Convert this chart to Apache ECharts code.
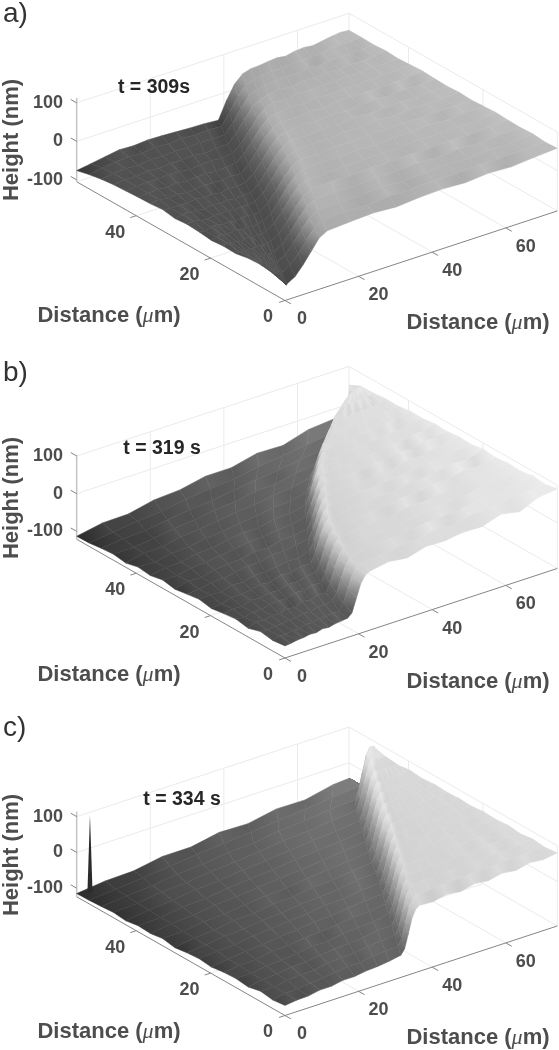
<!DOCTYPE html>
<html><head><meta charset="utf-8"><style>html,body{margin:0;background:#fff}#c{width:559px;height:1050px}</style>
<script src="https://cdn.jsdelivr.net/npm/echarts@6/dist/echarts.min.js"></script></head><body><div id="c"></div>
<script>
// ---------- data ----------
const xTicks=[0,20,40,60];
const yTicks=[0,20,40];
const zTicks=[-100,0,100];
const rowY=[0,3.3,6.6,9.9,13.2,16.5,19.8,23.1,26.4,29.6,32.9,36.2,39.5,42.8,46.1,49.4,52.7,56];
const stepA=[6,8,10,12.5,15,17,19.5,22,24,26,28,30,32,34.5,36.5,39,41.5,44];
const stepB=[20,21,22.5,24,26,28,30,33,36,39,42,45,49,53,58,63,69,73];
const stepC=[34,36.5,39,41.5,44,46.5,49,51.5,54,56,58.5,61,63.5,66,68.5,71.5,76,80];
const heightA=[
[-60,-61,-62,-63,-64,-65,-66,-66,-66,-66,-64,-52,-28,0,28,40,44,47,43,48,50,47,52,49,54,58],
[-52,-54,-58,-60,-58,-60,-62,-60,-62,-60,-58,-46,-24,4,30,42,46,44,48,47,51,49,53,51,55,56],
[-48,-52,-50,-56,-54,-58,-56,-58,-56,-59,-56,-44,-20,8,32,44,47,46,50,47,50,52,50,54,53,59],
[-50,-48,-54,-52,-56,-54,-58,-54,-57,-55,-54,-42,-18,10,34,46,49,47,51,49,53,50,54,52,55,57],
[-56,-54,-52,-56,-53,-57,-54,-56,-58,-55,-53,-40,-16,12,36,47,50,48,52,50,53,51,55,53,57,58],
[-55,-50,-55,-52,-58,-55,-52,-57,-54,-56,-52,-38,-14,14,37,48,46,51,49,53,50,55,52,56,54,60],
[-58,-54,-50,-55,-53,-51,-56,-53,-58,-54,-52,-38,-12,16,38,48,51,49,53,50,54,52,56,53,57,58],
[-54,-56,-52,-50,-55,-52,-57,-54,-52,-56,-53,-37,-12,16,38,49,47,52,50,54,51,55,53,54,56,56],
[-52,-50,-54,-56,-52,-55,-51,-56,-53,-55,-51,-36,-10,18,39,48,51,48,53,50,55,52,54,56,55,58],
[-55,-52,-50,-53,-56,-51,-54,-52,-55,-52,-54,-36,-10,18,39,50,47,52,49,54,51,53,55,52,57,56],
[-50,-54,-52,-55,-51,-54,-52,-56,-52,-54,-50,-34,-8,19,40,47,51,49,53,50,52,55,52,56,54,57],
[-53,-50,-54,-51,-55,-53,-50,-54,-52,-50,-52,-34,-8,20,40,49,46,51,48,53,51,54,52,55,54,59],
[-54,-52,-50,-53,-50,-54,-52,-50,-54,-51,-50,-33,-6,20,40,46,50,47,52,49,53,51,54,52,56,57],
[-56,-54,-51,-53,-50,-52,-55,-52,-50,-53,-49,-32,-6,21,40,47,45,50,48,51,49,53,51,55,53,55],
[-58,-55,-56,-52,-54,-51,-53,-50,-54,-51,-50,-30,-2,24,38,44,47,45,49,47,51,49,52,51,54,57],
[-62,-58,-55,-57,-53,-55,-52,-54,-51,-53,-52,-28,2,28,38,43,45,47,45,49,47,50,52,50,53,55],
[-68,-62,-58,-56,-58,-54,-56,-53,-56,-54,-56,-26,8,30,38,42,45,43,47,49,46,50,52,54,52,56],
[-76,-70,-64,-58,-60,-57,-58,-60,-62,-63,-66,-22,14,34,40,41,44,46,43,48,50,47,51,55,58,56]];
const heightB=[
[-89,-87,-84,-83,-80,-81,-76,-78,-74,-72,-70,-60,-25,10,28,35,44,38,52,50,58,56,72,62,84,90],
[-93,-86,-88,-83,-85,-79,-81,-75,-78,-72,-74,-55,-20,12,30,36,38,47,48,58,56,66,68,76,80,84],
[-88,-91,-85,-87,-81,-84,-76,-79,-72,-74,-68,-52,-18,14,30,33,41,44,49,56,58,62,72,71,80,88],
[-98,-88,-90,-84,-86,-79,-83,-74,-77,-70,-71,-50,-15,15,32,36,38,45,48,52,61,62,66,75,76,82],
[-92,-95,-87,-89,-83,-80,-82,-73,-75,-68,-70,-48,-12,18,33,33,42,44,47,55,56,63,66,69,78,84],
[-96,-91,-93,-85,-87,-80,-82,-74,-76,-70,-66,-46,-10,20,34,38,37,46,46,55,55,65,64,74,73,80],
[-101,-98,-90,-89,-85,-80,-83,-73,-76,-67,-69,-44,-8,22,36,34,42,43,50,51,58,60,65,72,71,84],
[-95,-93,-95,-86,-88,-81,-80,-76,-71,-72,-63,-40,-5,24,38,40,39,48,50,53,58,60,67,68,74,78],
[-100,-98,-91,-90,-85,-78,-80,-70,-71,-66,-60,-38,-3,26,38,37,44,45,47,55,54,62,62,70,71,80],
[-105,-95,-97,-88,-85,-82,-75,-76,-68,-66,-60,-35,0,28,40,43,42,50,48,56,55,63,60,69,70,76],
[-99,-100,-92,-90,-84,-81,-73,-73,-66,-65,-56,-32,2,30,42,41,48,46,52,53,55,61,59,67,68,78],
[-106,-98,-97,-88,-87,-79,-72,-74,-64,-63,-54,-30,4,32,43,46,45,51,52,55,56,60,64,62,68,73],
[-102,-103,-95,-92,-85,-80,-75,-69,-62,-60,-50,-26,6,33,44,45,51,50,55,54,59,57,63,62,66,74],
[-110,-100,-98,-89,-84,-79,-70,-68,-58,-56,-44,-22,8,34,46,52,50,56,54,59,58,62,61,65,64,69],
[-105,-104,-98,-90,-85,-76,-72,-62,-60,-50,-42,-18,10,36,48,52,57,54,60,56,62,58,63,60,65,70],
[-108,-102,-100,-90,-84,-77,-70,-60,-56,-46,-38,-14,14,38,50,56,60,57,61,58,62,59,63,60,64,66],
[-112,-104,-96,-92,-80,-74,-68,-58,-50,-42,-34,-10,18,42,54,60,62,60,63,61,64,62,65,63,66,66],
[-113,-100,-99,-84,-80,-66,-66,-50,-52,-32,-26,-24,-10,10,30,50,50,50,50,50,50,50,50,50,50,50]];
const heightC=[
[-96,-92,-91,-85,-85,-79,-79,-74,-72,-68,-62,-48,-10,30,52,60,58,66,61,70,66,74,69,78,74,80],
[-100,-93,-92,-87,-84,-80,-76,-76,-70,-67,-66,-46,-8,32,54,63,62,66,66,69,70,72,74,75,76,76],
[-95,-95,-90,-86,-85,-79,-76,-75,-68,-67,-62,-44,-6,34,56,60,65,64,68,67,71,71,74,73,77,80],
[-103,-95,-93,-87,-86,-80,-75,-74,-70,-64,-62,-42,-4,36,58,64,63,67,66,69,70,70,74,72,76,75],
[-99,-98,-91,-90,-85,-79,-79,-72,-70,-66,-60,-40,-2,38,60,62,66,65,68,68,71,70,73,72,75,79],
[-101,-97,-95,-87,-86,-79,-77,-72,-67,-65,-58,-38,0,40,62,65,64,68,67,69,70,71,72,72,74,76],
[-106,-99,-93,-90,-84,-80,-74,-73,-66,-63,-58,-36,2,42,64,63,67,66,69,68,71,70,72,72,74,78],
[-102,-98,-96,-88,-85,-79,-76,-69,-67,-61,-57,-34,4,44,66,66,66,68,67,70,69,71,71,73,72,74],
[-105,-101,-93,-91,-84,-81,-74,-71,-66,-59,-56,-32,6,46,68,65,68,67,70,69,71,70,72,72,73,76],
[-110,-100,-97,-88,-86,-78,-76,-68,-66,-58,-54,-30,8,48,70,68,67,69,68,70,70,72,71,73,72,74],
[-104,-103,-95,-92,-85,-79,-76,-68,-63,-59,-52,-28,10,50,72,68,70,69,71,70,72,71,72,72,73,76],
[-109,-101,-98,-89,-86,-79,-74,-69,-63,-56,-51,-26,12,52,74,71,70,72,71,72,71,73,72,73,72,73],
[-107,-105,-96,-93,-84,-80,-74,-67,-62,-57,-50,-24,14,54,76,72,74,72,74,72,74,73,74,73,74,76],
[-113,-104,-99,-90,-87,-78,-74,-67,-60,-56,-48,-22,16,56,78,74,75,74,76,74,75,74,75,74,75,72],
[-109,-106,-96,-93,-84,-80,-72,-66,-60,-54,-47,-20,20,60,82,78,78,77,77,76,76,75,75,74,74,76],
[-112,-106,-101,-91,-87,-78,-75,-64,-60,-52,-47,-18,24,66,86,84,84,84,84,84,84,84,84,84,84,84],
[-114,-108,-100,-94,-85,-80,-72,-66,-58,-51,-44,-43,-43,-43,-43,-43,-43,-43,-43,-43,-43,-43,-43,-43,-43,-43],
[-115,-106,-104,-90,-90,-75,-77,-62,-63,-46,-43,-43,-43,-43,-43,-43,-43,-43,-43,-43,-43,-43,-43,-43,-43,-43]];
const spikeC={x:2.6,y:55,top:101,base:-115};
const timeLabels=['t = 309s','t = 319 s','t = 334 s'];
const panelLetters=['a)','b)','c)'];

// ---------- layout ----------
const XMAX=74,YMAX=56;
const panels=[
 {h:heightA,s:stepA,w:11,oy:300.5,kz:.385,zmin:-105,ztop:113,relief:2,gray:[[-80,52],[-58,80],[-20,90],[10,125],[35,160],[60,192]],letterY:14,tx:154,ty:88,hy:140,dl:316,dr:323},
 {h:heightB,s:stepB,w:6,oy:658,kz:.377,zmin:-121,ztop:102,relief:2,gray:[[-115,48],[-90,80],[-60,100],[-30,122],[0,160],[35,212],[90,234]],letterY:373,tx:162,ty:449,hy:498,dl:675,dr:682},
 {h:heightC,s:stepC,w:5,oy:1015.5,kz:.358,zmin:-124,ztop:114,relief:2,gray:[[-115,48],[-96,78],[-70,100],[-45,122],[0,155],[60,208],[85,222]],letterY:728,tx:182,ty:800,hy:855,dl:1032,dr:1038}];
function proj(p,x,y,z){return [285+3.68*x-3.72*y,p.oy-1.21*x-2.12*y-p.kz*(z-p.zmin)];}
function nodeX(p,j,i){const s=p.s[j],a=Math.max(0,s-p.w/2),b=s+p.w/2;let x;
 if(i<=10)x=a*i/10;else if(i<=15)x=a+(b-a)*(i-10)/5;else x=b+(XMAX-b)*(i-15)/10;
 return Math.min(x,XMAX);}
function baseGray(p,z){const g=p.gray;if(z<=g[0][0])return g[0][1];
 for(let k=1;k<g.length;k++)if(z<=g[k][0]){const t=(z-g[k-1][0])/(g[k][0]-g[k-1][0]);return g[k-1][1]+t*(g[k][1]-g[k-1][1]);}
 return g[g.length-1][1];}
function nodeGray(p,j,i){const h=p.h,z=h[j][i];
 const up=h[Math.min(j+1,17)][i],dn=h[Math.max(j-1,0)][i],r=h[j][Math.min(i+1,25)],l=h[j][Math.max(i-1,0)];
 const sh=Math.max(-12,Math.min(12,p.relief*(z-(up+dn+l+r)/4)));
 return Math.max(0,Math.min(255,baseGray(p,z)+sh));}
const rgb=g=>{const v=Math.round(g);return 'rgb('+v+','+v+','+v+')';};

// ---------- surface cells ----------
const cells=[];
panels.forEach((p,k)=>{for(let j=16;j>=0;j--)for(let i=24;i>=0;i--)cells.push([k,j,i]);});
function renderCell(params,api){
 const p=panels[api.value(0)],j=api.value(1),i=api.value(2);
 const pt=(jj,ii)=>api.coord(proj(p,nodeX(p,jj,ii),rowY[jj],p.h[jj][ii]));
 const a=pt(j,i),b=pt(j,i+1),c=pt(j+1,i+1),d=pt(j+1,i);
 const gl=(nodeGray(p,j,i)+nodeGray(p,j+1,i))/2,gr=(nodeGray(p,j,i+1)+nodeGray(p,j+1,i+1))/2;
 const x1=(a[0]+d[0])/2,y1=(a[1]+d[1])/2,x2=(b[0]+c[0])/2,y2=(b[1]+c[1])/2;
 const fill=(Math.abs(x2-x1)+Math.abs(y2-y1)<.01)?rgb(gl):{type:'linear',x:x1,y:y1,x2:x2,y2:y2,global:true,colorStops:[{offset:0,color:rgb(gl)},{offset:1,color:rgb(gr)}]};
 return {type:'polygon',shape:{points:[a,b,c,d]},style:{fill:fill,stroke:fill,lineWidth:.5},silent:true};
}

// ---------- frame: grid lines, axis lines, ticks ----------
const segs=[];
panels.forEach((p,k)=>{
 const F=p.zmin,add=(a,b,t)=>segs.push({k,a,b,t});
 const T=100;
 [0,100].forEach(z=>{add([0,YMAX,z],[XMAX,YMAX,z],'g');add([XMAX,YMAX,z],[XMAX,0,z],'g');});
 xTicks.slice(1).forEach(x=>{add([x,YMAX,F],[x,YMAX,T],'g');add([x,0,F],[x,YMAX,F],'g');});
 yTicks.slice(1).forEach(y=>{add([XMAX,y,F],[XMAX,y,T],'g');add([0,y,F],[XMAX,y,F],'g');});
 add([XMAX,YMAX,F],[XMAX,YMAX,T],'g');add([XMAX,0,F],[XMAX,0,T],'g');
 add([0,YMAX,F],[XMAX,YMAX,F],'g');add([XMAX,0,F],[XMAX,YMAX,F],'g');
 add([0,0,F],[XMAX,0,F],'a');add([0,0,F],[0,YMAX,F],'a');add([0,YMAX,F],[0,YMAX,p.ztop],'z');
 xTicks.forEach(x=>add([x,0,F],[x,-1.6,F],'a'));
 yTicks.forEach(y=>add([0,y,F],[-1.6,y,F],'a'));
 zTicks.forEach(z=>add([0,YMAX,z],[0,YMAX+1.6,z],'a'));
});
function renderSeg(params,api){
 const s=segs[api.value(0)],p=panels[s.k];
 const a=api.coord(proj(p,...s.a)),b=api.coord(proj(p,...s.b));
 const st={g:['#ebebeb',1],a:['#858585',1],z:['#c4c4c4',1.5]}[s.t];
 return {type:'line',shape:{x1:a[0],y1:a[1],x2:b[0],y2:b[1]},style:{stroke:st[0],lineWidth:st[1]},silent:true};
}

// ---------- texts ----------
const SANS='"Liberation Sans",Arial,sans-serif';
const labels=[];
const distRich={b:{font:'bold 22px '+SANS,fill:'#4d4d4d'},m:{font:'italic 22px "Liberation Serif",serif',fill:'#4d4d4d'}};
const distText='{b|Distance (}{m|\u03bc}{b|m)}';
panels.forEach((p,k)=>{
 const o=(pos,text,align,font,fill,extra)=>labels.push(Object.assign({pos,text,align,font,fill},extra||{}));
 const tf='bold 18px '+SANS,c='#4d4d4d';
 xTicks.forEach(x=>{const q=proj(p,x,0,p.zmin);o([q[0]+(x?20:17),q[1]+19],String(x),'center',tf,c);});
 yTicks.forEach(y=>{const q=proj(p,0,y,p.zmin);o([q[0]-(y?21:17),q[1]+17],String(y),'center',tf,c);});
 zTicks.forEach(z=>{const q=proj(p,0,YMAX,z);o([63,q[1]],String(z),'right',tf,c);});
 o([3,p.letterY],panelLetters[k],'left','28px '+SANS,'#333');
 o([p.tx,p.ty],timeLabels[k],'center','bold 19.5px '+SANS,'#262626');
 o([12,p.hy],'Height (nm)','center','bold 22px '+SANS,c,{rot:Math.PI/2});
 o([109,p.dl],distText,'center',null,c,{rich:distRich});
 o([478,p.dr],distText,'center',null,c,{rich:distRich});
});
function renderLabel(params,api){
 const l=labels[api.value(0)],q=api.coord(l.pos);
 const style={text:l.text,textAlign:l.align,textVerticalAlign:'middle',fill:l.fill};
 if(l.font)style.font=l.font;
 if(l.rich)style.rich=l.rich;
 return {type:'text',x:q[0],y:q[1],rotation:l.rot||0,style:style,silent:true};
}
function renderSpike(params,api){
 const s=spikeC,p=panels[2];
 return {type:'polygon',shape:{points:[[s.x-.7,s.base],[s.x,s.top],[s.x+.7,s.base]].map(v=>api.coord(proj(p,v[0],s.y,v[1])))},style:{fill:'#2b2b2b'},silent:true};
}

const chart=echarts.init(document.getElementById('c'),null,{renderer:'canvas'});
const idx=a=>a.map((_,i)=>[i]);
const common={coordinateSystem:'cartesian2d',clip:false,animation:false,progressive:0,silent:true};
chart.setOption({
 animation:false,backgroundColor:'#fff',
 grid:{left:0,right:0,top:0,bottom:0},
 xAxis:{type:'value',min:0,max:559,show:false},
 yAxis:{type:'value',min:0,max:1050,inverse:true,show:false},
 series:[
  Object.assign({type:'custom',name:'frame',renderItem:renderSeg,data:idx(segs),z:1},common),
  Object.assign({type:'custom',name:'surface',renderItem:renderCell,data:cells,z:2},common),
  Object.assign({type:'custom',name:'spike',renderItem:renderSpike,data:[[0]],z:3},common),
  Object.assign({type:'custom',name:'labels',renderItem:renderLabel,data:idx(labels),z:4},common)
 ]
});
</script></body></html>
